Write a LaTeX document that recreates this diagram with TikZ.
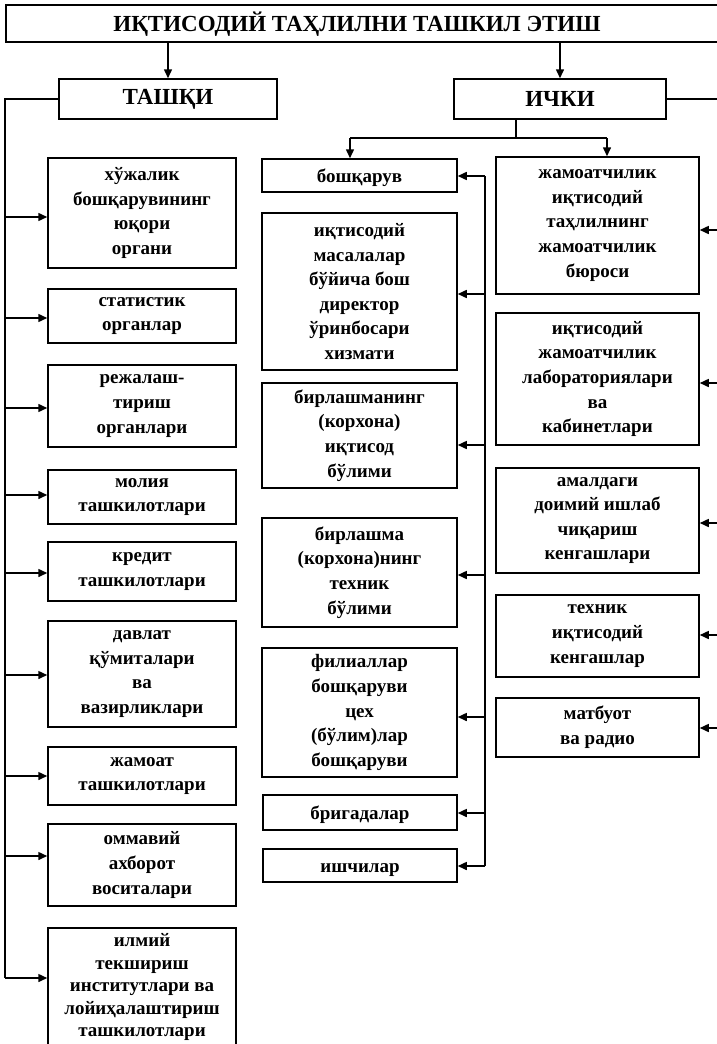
\documentclass[tikz,border=0pt]{standalone}
\usepackage{fontspec}
\setmainfont{Liberation Serif}
\usetikzlibrary{arrows.meta}
\tikzset{
  bx/.style={draw, line width=1.5pt, align=center, inner sep=0pt, font=\fontsize{19}{24.6}\selectfont\bfseries,
    execute at begin node={\rule{0pt}{18.5pt}}},
  bxt/.style={bx, font=\fontsize{19}{22.5}\selectfont\bfseries},
  hd/.style={draw, line width=1.5pt, align=center, inner sep=0pt, font=\fontsize{23}{27}\selectfont\bfseries},
  ttl/.style={align=center, inner sep=0pt, font=\fontsize{23}{27}\selectfont\bfseries},
  ln/.style={line width=1.5pt},
  arr/.style={ln, -{Triangle[length=9pt,width=8pt]}},
}
\newcommand\mkbox[7][bx]{\node[#1, minimum width={(#5-#3)*1pt}, minimum height={(#6-#4)*1pt}] (#2) at ({(#3+#5)/2},{(#4+#6)/2}) {#7};}
\begin{document}
\begin{tikzpicture}[x=1pt,y=-1pt]
\fill[white] (0,0) rectangle (717,1044);
\useasboundingbox (0,0) rectangle (717,1044);
% top
\mkbox[hd]{T}{6}{5}{724}{42}{}
\node[ttl] (title) at (357,24) {ИҚТИСОДИЙ ТАҲЛИЛНИ ТАШКИЛ ЭТИШ};
\mkbox[hd]{TA}{59}{79}{277}{119}{ТАШҚИ}
\mkbox[hd]{IC}{454}{79}{666}{119}{ИЧКИ}
\draw[arr] (T.south -| TA.north) -- (TA.north);
\draw[arr] (T.south -| IC.north) -- (IC.north);
% left column
\mkbox{L1}{48}{158}{236}{268}{хўжалик\\бошқарувининг\\юқори\\органи}
\mkbox{L2}{48}{289}{236}{343}{статистик\\органлар}
\mkbox{L3}{48}{365}{236}{447}{режалаш-\\тириш\\органлари}
\mkbox{L4}{48}{470}{236}{524}{молия\\ташкилотлари}
\mkbox{L5}{48}{542}{236}{601}{кредит\\ташкилотлари}
\mkbox{L6}{48}{621}{236}{727}{давлат\\қўмиталари\\ва\\вазирликлари}
\mkbox{L7}{48}{747}{236}{805}{жамоат\\ташкилотлари}
\mkbox{L8}{48}{824}{236}{906}{оммавий\\ахборот\\воситалари}
\mkbox[bxt]{L9}{48}{928}{236}{1046}{илмий\\текшириш\\институтлари ва\\лойиҳалаштириш\\ташкилотлари}
% middle column
\mkbox{M1}{262}{159}{457}{192}{бошқарув}
\mkbox{M2}{262}{213}{457}{370}{иқтисодий\\масалалар\\бўйича бош\\директор\\ўринбосари\\хизмати}
\mkbox{M3}{262}{383}{457}{488}{бирлашманинг\\(корхона)\\иқтисод\\бўлими}
\mkbox{M4}{262}{518}{457}{627}{бирлашма\\(корхона)нинг\\техник\\бўлими}
\mkbox{M5}{262}{648}{457}{777}{филиаллар\\бошқаруви\\цех\\(бўлим)лар\\бошқаруви}
\mkbox{M6}{263}{795}{457}{830}{бригадалар}
\mkbox{M7}{263}{849}{457}{882}{ишчилар}
% right column
\mkbox{R1}{496}{157}{699}{294}{жамоатчилик\\иқтисодий\\таҳлилнинг\\жамоатчилик\\бюроси}
\mkbox{R2}{496}{313}{699}{445}{иқтисодий\\жамоатчилик\\лабораториялари\\ва\\кабинетлари}
\mkbox{R3}{496}{468}{699}{573}{амалдаги\\доимий ишлаб\\чиқариш\\кенгашлари}
\mkbox{R4}{496}{595}{699}{677}{техник\\иқтисодий\\кенгашлар}
\mkbox{R5}{496}{698}{699}{757}{матбуот\\ва радио}
% left bus
\coordinate (lt) at (5,99);
\coordinate (lb) at (5,978);
\draw[ln] (TA.west) -- (lt) -- (lb);
\foreach \n/\y in {L1/217,L2/318,L3/408,L4/495,L5/573,L6/675,L7/776,L8/856}{
  \coordinate (a\n) at (5,\y);
  \draw[arr] (a\n) -- (a\n -| \n.west);
}
\draw[arr] (lb) -- (lb -| L9.west);
% split below ICHKI
\coordinate (sp) at (516,138);
\coordinate (spl) at (350,138);
\coordinate (spr) at (607,138);
\draw[ln] (IC.south -| sp) -- (sp);
\draw[ln] (spl) -- (spr);
\draw[arr] (spl) -- (spl |- M1.north);
\draw[arr] (spr) -- (spr |- R1.north);
% middle bus
\coordinate (mt) at (485,176);
\coordinate (mb) at (485,866);
\draw[ln] (mt) -- (mb);
\foreach \n/\y in {M1/176,M2/294,M3/445,M4/575,M5/717,M6/813,M7/866}{
  \coordinate (b\n) at (485,\y);
  \draw[arr] (b\n) -- (b\n -| \n.east);
}
% right side
\coordinate (re) at (717,99);
\draw[ln] (IC.east) -- (re);
\foreach \n/\y in {R1/230,R2/383,R3/523,R4/635,R5/728}{
  \coordinate (c\n) at (717,\y);
  \draw[arr] (c\n) -- (c\n -| \n.east);
}
\end{tikzpicture}
\end{document}
